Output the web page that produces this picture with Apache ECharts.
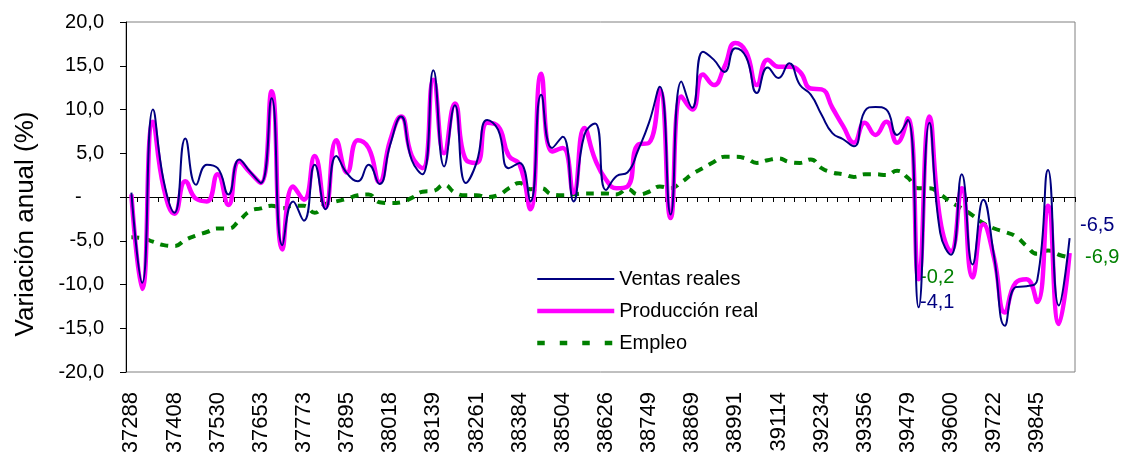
<!DOCTYPE html>
<html>
<head>
<meta charset="utf-8">
<title>Variación anual</title>
<script src="https://cdn.jsdelivr.net/npm/echarts@6/dist/echarts.min.js"></script>
<style>
	html, body { margin: 0; padding: 0; background: #fff; }
	#chart { width: 1123px; height: 452px; }
</style>
</head>
<body>
<div id="chart"></div>
<script>
// 月份 (Excel 序號, 2002-02 ~ 2009-05)
var months = [
	37288, 37316, 37347, 37377, 37408, 37438, 37469, 37500, 37530, 37561, 37591,
	37622, 37653, 37681, 37712, 37742, 37773, 37803, 37834, 37865, 37895, 37926, 37956,
	37987, 38018, 38047, 38078, 38108, 38139, 38169, 38200, 38231, 38261, 38292, 38322,
	38353, 38384, 38412, 38443, 38473, 38504, 38534, 38565, 38596, 38626, 38657, 38687,
	38718, 38749, 38777, 38808, 38838, 38869, 38899, 38930, 38961, 38991, 39022, 39052,
	39083, 39114, 39142, 39173, 39203, 39234, 39264, 39295, 39326, 39356, 39387, 39417,
	39448, 39479, 39508, 39539, 39569, 39600, 39630, 39661, 39692, 39722, 39753, 39783,
	39814, 39845, 39873, 39904, 39934
];

var ventas = [
	0.5, -9.8, 10.0, 1.8, -1.8, 6.7, 1.4, 3.7, 3.3, 0.3, 4.3, 2.9, 1.6, 11.3, -5.5,
	-0.5, -2.7, 3.7, -1.4, 4.7, 2.7, 1.8, 3.7, 1.5, 6.0, 9.2, 4.2, 2.6, 14.5, 3.5,
	10.5, 1.6, 3.9, 8.8, 7.7, 3.3, 3.9, -0.5, 11.7, 5.6, 6.9, -0.5, 7.1, 8.4, 0.8,
	2.4, 2.8, 5.4, 8.5, 12.6, -2.0, 13.2, 10.2, 16.6, 15.7, 14.3, 17.0, 16.0, 11.9, 14.8,
	13.6, 15.3, 12.8, 11.7, 9.4, 7.3, 6.6, 5.8, 9.8, 10.3, 10.0, 7.1, 8.8, -12.6, 8.5,
	-4.1, -6.6, 2.6, -7.7, -0.3, -6.8, -14.7, -10.3, -10.2, -9.5, 3.1, -12.4, -4.7
];

var produccion = [
	0.3, -10.5, 8.6, 1.0, -1.9, 1.8, -0.2, -0.5, 2.6, -0.9, 4.1, 2.8, 1.6, 12.1, -6.0,
	1.2, -0.3, 4.7, -1.2, 6.5, 2.8, 6.5, 5.6, 1.7, 6.5, 9.2, 4.7, 3.3, 13.4, 5.0,
	10.7, 4.3, 3.9, 8.5, 8.1, 4.7, 3.7, -1.4, 14.1, 5.2, 5.6, 0.5, 7.9, 4.3, 2.0,
	1.0, 1.2, 6.0, 6.2, 12.2, -2.4, 11.5, 10.0, 14.0, 12.8, 14.9, 17.6, 16.6, 12.8, 15.7,
	14.9, 14.9, 14.3, 12.4, 12.3, 10.2, 8.1, 6.2, 8.5, 7.1, 8.6, 6.2, 9.0, -9.4, 9.2,
	-2.6, -6.2, 1.0, -9.2, -3.1, -7.0, -13.2, -9.8, -9.4, -12.0, -1.0, -14.5, -6.4
];

var empleo = [
	-4.6, -4.7, -5.1, -5.5, -5.6, -4.9, -4.4, -4.0, -3.6, -3.6, -2.7, -1.6, -1.3, -1.0, -1.3,
	-1.0, -1.0, -1.8, -0.8, -0.5, -0.2, 0.2, 0.3, -0.6, -0.7, -0.6, -0.1, 0.6, 0.7, 1.4,
	0.5, 0.2, 0.2, 0.0, 0.2, 1.0, 1.6, 0.9, 1.0, 0.3, 0.2, 0.3, 0.4, 0.4, 0.4,
	0.3, 0.9, 0.3, 0.6, 1.2, 1.0, 1.7, 2.6, 3.3, 4.0, 4.6, 4.6, 4.4, 3.9, 4.2,
	4.4, 4.0, 3.9, 4.3, 3.3, 2.8, 2.6, 2.3, 2.6, 2.6, 2.5, 3.0, 2.2, 1.0, 1.0,
	0.3, -0.6, -1.3, -2.1, -3.0, -3.6, -4.0, -4.5, -5.6, -6.5, -6.1, -6.6, -6.9
];

// 手動標註
var notes = [
	{ text: "-6,5", color: "#000080", x: 1080, y: 225 },
	{ text: "-6,9", color: "#008000", x: 1085, y: 257 },
	{ text: "-0,2", color: "#008000", x: 920, y: 277 },
	{ text: "-4,1", color: "#000080", x: 920, y: 302 }
];

var FONT = "'Liberation Sans', Arial, sans-serif";

function yLabel(v) {
	if (v === 0) {
		return "-    ";
	}
	return v.toFixed(1).replace(".", ",");
}

function Lines(dom) {
	var myChart = echarts.init(dom, null, { renderer: "canvas" });

	var graphics = notes.map(function (n) {
		return {
			type: "text",
			x: n.x,
			y: n.y,
			style: {
				text: n.text,
				fill: n.color,
				font: "20px " + FONT,
				verticalAlign: "middle"
			}
		};
	});
	// Y 軸標題
	graphics.push({
		type: "text",
		x: 26,
		y: 224,
		rotation: Math.PI / 2,
		style: {
			text: "Variación anual (%)",
			fill: "#000",
			font: "26px " + FONT,
			align: "center",
			verticalAlign: "middle"
		}
	});

	var option = {
		animation: false,
		textStyle: { fontFamily: FONT },
		grid: {
			left: 126,
			right: 48,
			top: 22,
			bottom: 80,
			outerBoundsMode: "none",
			show: true,
			borderColor: "#808080",
			borderWidth: 1
		},
		legend: {
			orient: "vertical",
			left: 530,
			top: 263,
			itemWidth: 77,
			itemHeight: 14,
			itemGap: 10,
			textStyle: { fontSize: 20, color: "#000", lineHeight: 22 },
			itemStyle: { opacity: 0 },
			data: [
				{ name: "Ventas reales", lineStyle: { width: 2 } },
				{ name: "Producción real", lineStyle: { width: 4.5 } },
				{ name: "Empleo", lineStyle: { width: 4.5, type: [7.5, 15] } }
			]
		},
		xAxis: [
			{
				type: "category",
				data: months,
				boundaryGap: true,
				position: "bottom",
				axisLine: { show: false, onZero: false },
				axisTick: { show: false },
				splitLine: { show: false },
				axisLabel: {
					interval: 3,
					rotate: 90,
					fontSize: 22,
					color: "#000",
					margin: 20
				}
			},
			{
				// 0 軸上的刻度
				type: "category",
				data: months,
				boundaryGap: true,
				position: "bottom",
				axisLine: { show: true, onZero: true, lineStyle: { color: "#000", width: 1 } },
				axisTick: { show: true, interval: 0, length: 5, lineStyle: { color: "#000" } },
				axisLabel: { show: false },
				splitLine: { show: false }
			}
		],
		yAxis: {
			type: "value",
			min: -20,
			max: 20,
			interval: 5,
			axisLine: { show: true, lineStyle: { color: "#000" } },
			axisTick: { show: true, length: 6, lineStyle: { color: "#000" } },
			splitLine: { show: false },
			axisLabel: {
				formatter: yLabel,
				fontSize: 20,
				color: "#000",
				margin: 22
			}
		},
		series: [
			{
				name: "Ventas reales",
				type: "line",
				data: ventas,
				symbol: "none",
				smooth: 0.5,
				z: 3,
				itemStyle: { color: "#000080" },
				lineStyle: { color: "#000080", width: 2 }
			},
			{
				name: "Producción real",
				type: "line",
				data: produccion,
				symbol: "none",
				smooth: 0.5,
				z: 2,
				itemStyle: { color: "#FF00FF" },
				lineStyle: { color: "#FF00FF", width: 4.5 }
			},
			{
				name: "Empleo",
				type: "line",
				data: empleo,
				symbol: "none",
				smooth: 0.5,
				z: 1,
				itemStyle: { color: "#008000" },
				lineStyle: { color: "#008000", width: 4, type: [8, 7] }
			}
		],
		graphic: graphics
	};
	myChart.setOption(option);
	window.addEventListener("resize", myChart.resize);
}

Lines(document.getElementById("chart"));
</script>
</body>
</html>
